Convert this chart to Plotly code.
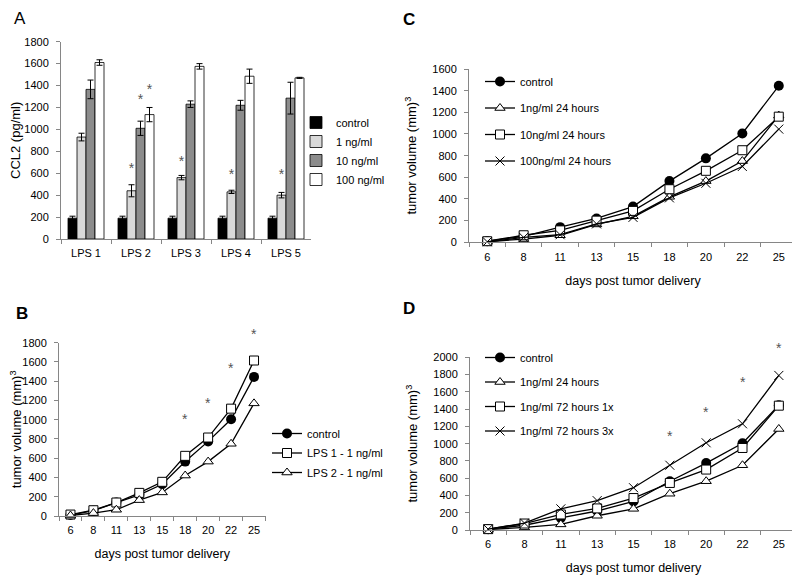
import plotly.graph_objects as go

# ---- panel A: CCL2 secretion
lps_groups = ["LPS 1", "LPS 2", "LPS 3", "LPS 4", "LPS 5"]
ccl2_names = ["control", "1 ng/ml", "10 ng/ml", "100 ng/ml"]
ccl2_values = [
    [190, 190, 190, 190, 190],
    [930, 440, 560, 430, 400],
    [1365, 1010, 1230, 1220, 1285],
    [1610, 1135, 1575, 1485, 1470],
]
ccl2_errors = [
    [18, 18, 18, 18, 18],
    [35, 55, 20, 15, 25],
    [85, 65, 30, 45, 145],
    [25, 65, 25, 65, 5],
]
ccl2_colors = ["#000000", "#d9d9d9", "#8c8c8c", "#ffffff"]
# significance stars: (group, series index, height)
star_a_group = [1, 1, 1, 2, 3, 4]
star_a_series = [1, 2, 3, 1, 1, 1]
star_a_y = [635, 1259, 1359, 696, 575, 575]

# ---- tumor growth panels
days = ["6", "8", "11", "13", "15", "18", "20", "22", "25"]
control = [10, 55, 140, 220, 330, 565, 775, 1005, 1445]

b_lps1 = [15, 60, 140, 240, 355, 625, 815, 1115, 1615]
b_lps2 = [5, 30, 65, 165, 245, 420, 565, 750, 1170]
star_b_days = ["18", "20", "22", "25"]
star_b_y = [1007, 1177, 1534, 1890]

c_1ng = [5, 30, 65, 165, 240, 420, 565, 750, 1170]
c_10ng = [10, 65, 110, 200, 290, 490, 660, 850, 1160]
c_100ng = [5, 45, 70, 170, 230, 410, 545, 700, 1045]

d_24h = [5, 30, 65, 165, 245, 420, 565, 750, 1170]
d_72h_1x = [10, 75, 180, 250, 370, 545, 700, 950, 1440]
d_72h_3x = [10, 80, 245, 340, 490, 750, 1010, 1230, 1790]
star_d_days = ["18", "20", "22", "25"]
star_d_y = [1092, 1370, 1717, 2111]

# the page body adds an 8px margin, so the figure is 8px smaller each way
OFF = 8
W, H = 800 - OFF, 580 - OFF
FONT = "Liberation Sans, Arial, sans-serif"
AX = "#868686"
STAR = dict(size=14, color="#555")
BARGAP = 0.28


def fx(px):
    return (px - OFF) / W


def fy(py):
    return 1 - (py - OFF) / H


fig = go.Figure()

# bars
for i, name in enumerate(ccl2_names):
    fig.add_trace(go.Bar(
        x=lps_groups, y=ccl2_values[i], name=name,
        marker=dict(color=ccl2_colors[i], line=dict(color="#000", width=0.8)),
        error_y=dict(type="data", array=ccl2_errors[i], color="#000", thickness=1, width=3),
        xaxis="x", yaxis="y", legend="legend",
    ))
# stars over individual bars, on a hidden numeric twin of the category axis
bar_w = (1 - BARGAP) / len(ccl2_names)
star_a_pos = [g + (s - 1.5) * bar_w for g, s in zip(star_a_group, star_a_series)]
fig.add_trace(go.Scatter(
    x=star_a_pos, y=star_a_y, mode="text", text=["*"] * len(star_a_pos),
    textfont=STAR, showlegend=False, cliponaxis=False, xaxis="x5", yaxis="y",
))

line_style = dict(color="#000", width=1.3)
mk_circle = dict(symbol="circle", size=10, color="#000")
mk_tri = dict(symbol="triangle-up", size=9, color="#fff", line=dict(color="#000", width=1))
mk_sq = dict(symbol="square", size=9, color="#fff", line=dict(color="#000", width=1))
mk_x = dict(symbol="x-thin", size=9, color="#000", line=dict(color="#000", width=1))


def growth(y, name, marker, xa, ya, leg):
    fig.add_trace(go.Scatter(
        x=days, y=y, name=name, mode="lines+markers", line=line_style, marker=marker,
        xaxis=xa, yaxis=ya, legend=leg, legendgroup=leg + name, cliponaxis=False,
    ))


# panel C
growth(control, "control", mk_circle, "x2", "y2", "legend2")
growth(c_1ng, "1ng/ml 24 hours", mk_tri, "x2", "y2", "legend2")
growth(c_10ng, "10ng/ml 24 hours", mk_sq, "x2", "y2", "legend2")
growth(c_100ng, "100ng/ml 24 hours", mk_x, "x2", "y2", "legend2")

# panel B
growth(control, "control", mk_circle, "x3", "y3", "legend3")
growth(b_lps1, "LPS 1 - 1 ng/ml", mk_sq, "x3", "y3", "legend3")
growth(b_lps2, "LPS 2 - 1 ng/ml", mk_tri, "x3", "y3", "legend3")

# panel D
growth(control, "control", mk_circle, "x4", "y4", "legend4")
growth(d_24h, "1ng/ml 24 hours", mk_tri, "x4", "y4", "legend4")
growth(d_72h_1x, "1ng/ml 72 hours 1x", mk_sq, "x4", "y4", "legend4")
growth(d_72h_3x, "1ng/ml 72 hours 3x", mk_x, "x4", "y4", "legend4")


def xaxis(dom, anchor, ncat, title=None):
    d = dict(domain=[fx(dom[0]), fx(dom[1])], anchor=anchor, type="category",
             range=[-0.5, ncat - 0.5],
             showline=True, linecolor=AX, linewidth=1, ticks="outside", tickson="boundaries",
             ticklen=4, tickcolor=AX, showgrid=False, zeroline=False, automargin=False,
             ticklabelstandoff=4, tickfont=dict(size=11, color="#000"))
    if title:
        d["title"] = dict(text=title, font=dict(size=12.5, color="#000"), standoff=14)
    return d


def yaxis(dom, anchor, rng, title):
    return dict(domain=[fy(dom[0]), fy(dom[1])], anchor=anchor, range=rng, dtick=200,
                showline=True, linecolor=AX, linewidth=1, ticks="outside", ticklen=4,
                tickcolor=AX, showgrid=False, zeroline=False, automargin=False,
                ticklabelstandoff=5, tickfont=dict(size=11, color="#000"),
                title=dict(text=title, font=dict(size=13, color="#000"), standoff=12))


vol_title = "tumor volume (mm)<sup>3</sup>"
day_title = "days post tumor delivery"
rng_b = [0, 1800]
rng_d = [0, 2000]


def letter(text, px, py):
    return dict(text=text, x=fx(px), y=fy(py), xref="paper", yref="paper", showarrow=False,
                xanchor="center", yanchor="middle", font=dict(size=17, color="#000"))


annotations = [
    letter("A", 20, 18),
    letter("<b>C</b>", 409, 19),
    letter("<b>B</b>", 22, 313),
    letter("<b>D</b>", 409, 308),
]
# stars can sit above the axis top, so they are placed in axis-domain units
for sd, sy, rng, xr, yr in [(star_b_days, star_b_y, rng_b, "x3", "y3 domain"),
                            (star_d_days, star_d_y, rng_d, "x4", "y4 domain")]:
    for d, v in zip(sd, sy):
        annotations.append(dict(text="*", x=days.index(d), y=(v - rng[0]) / (rng[1] - rng[0]),
                                xref=xr, yref=yr, showarrow=False,
                                xanchor="center", yanchor="middle", font=STAR))

leg_common = dict(xanchor="left", yanchor="top", font=dict(size=11), bgcolor="rgba(0,0,0,0)")

fig.update_layout(
    width=W, height=H, margin=dict(l=0, r=0, t=0, b=0), autosize=False,
    paper_bgcolor="#fff", plot_bgcolor="#fff",
    font=dict(family=FONT, color="#000"),
    barmode="group", bargap=BARGAP, bargroupgap=0,
    xaxis=xaxis((61, 311), "y", len(lps_groups)),
    yaxis=yaxis((239, 41.7), "x", [0, 1800], "CCL2 (pg/ml)"),
    xaxis5=dict(overlaying="x", domain=[fx(61), fx(311)], anchor="y", range=[-0.5, 4.5],
                visible=False),
    xaxis2=xaxis((469, 797), "y2", len(days), day_title),
    yaxis2=yaxis((242.3, 69), "x2", [0, 1600], vol_title),
    xaxis3=xaxis((59, 265.5), "y3", len(days), day_title),
    yaxis3=yaxis((516, 342.7), "x3", rng_b, vol_title),
    xaxis4=xaxis((470, 797), "y4", len(days), day_title),
    yaxis4=yaxis((530, 357.3), "x4", rng_d, vol_title),
    legend=dict(x=fx(296), y=fy(108), tracegroupgap=0, **leg_common),
    legend2=dict(x=fx(480), y=fy(67), tracegroupgap=7.5, **leg_common),
    legend3=dict(x=fx(267), y=fy(419), tracegroupgap=0.5, **leg_common),
    legend4=dict(x=fx(480), y=fy(343), tracegroupgap=5.5, **leg_common),
    annotations=annotations,
)

fig.write_html("out.html")
